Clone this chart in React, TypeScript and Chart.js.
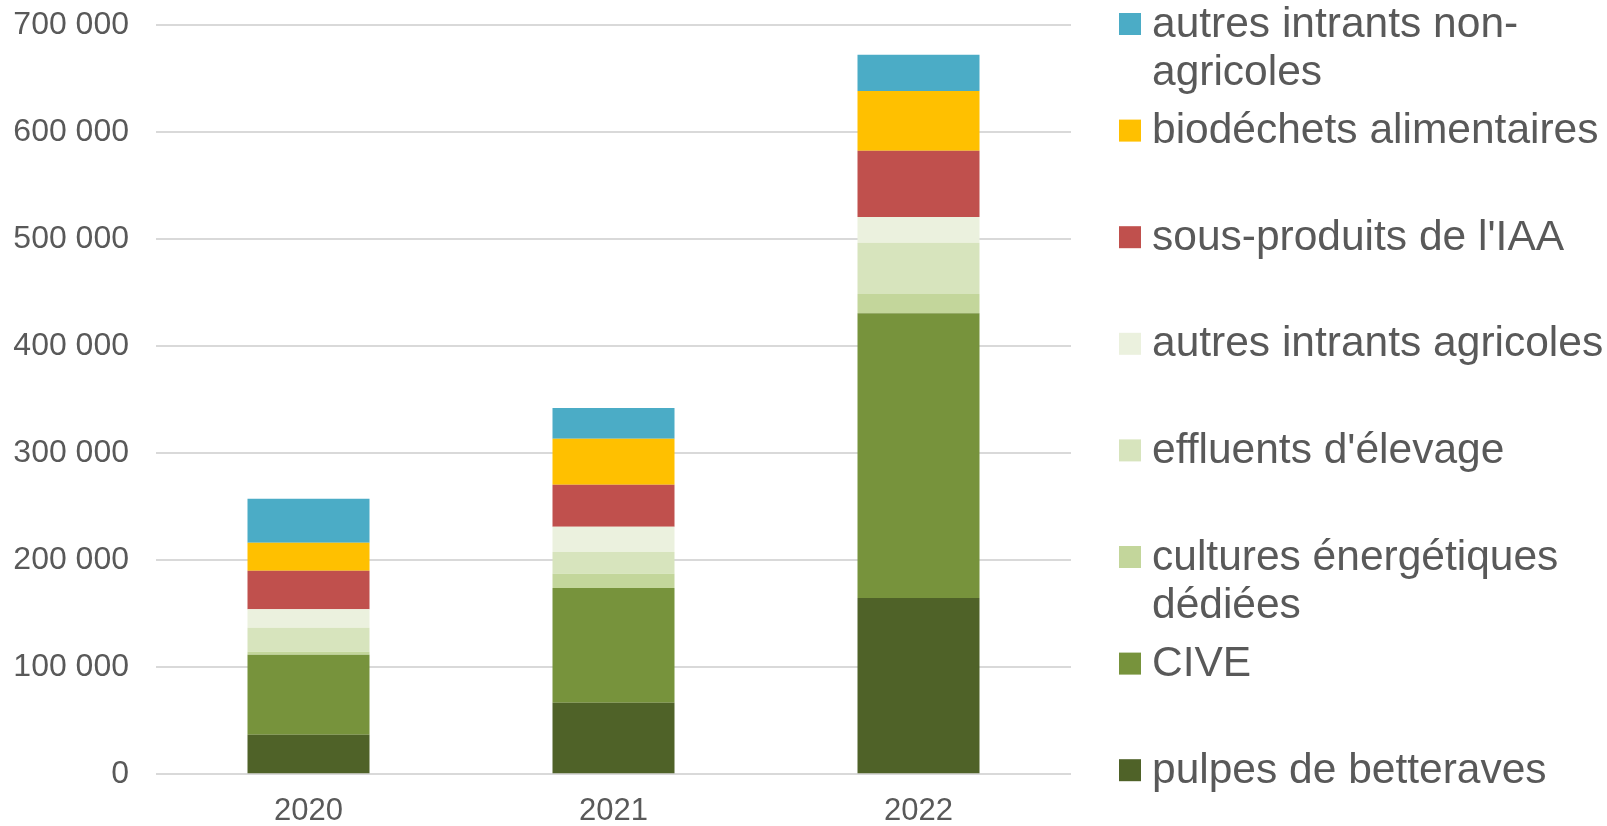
import React, { useEffect, useRef } from "react";
import { Chart, registerables } from "chart.js";

Chart.register(...registerables);

const years = ["2020", "2021", "2022"];

const pulpes = [37000, 66900, 164700];
const cive = [74700, 107100, 266000];
const cultures = [2800, 13400, 18000];
const effluents = [22500, 20300, 47900];
const autresAgricoles = [17100, 23600, 24000];
const sousProduitsIAA = [36100, 39300, 62000];
const biodechets = [26200, 42900, 55800];
const autresNonAgricoles = [41100, 28700, 33900];

const seriesNames = [
  "pulpes de betteraves",
  "CIVE",
  "cultures énergétiques dédiées",
  "effluents d'élevage",
  "autres intrants agricoles",
  "sous-produits de l'IAA",
  "biodéchets alimentaires",
  "autres intrants non-agricoles",
];
const legendLines: string[][] = [
  ["pulpes de betteraves"],
  ["CIVE"],
  ["cultures énergétiques", "dédiées"],
  ["effluents d'élevage"],
  ["autres intrants agricoles"],
  ["sous-produits de l'IAA"],
  ["biodéchets alimentaires"],
  ["autres intrants non-", "agricoles"],
];
const colors = [
  "#4F6228",
  "#77933C",
  "#C3D69B",
  "#D7E4BD",
  "#EBF1DE",
  "#C0504D",
  "#FFC000",
  "#4BACC6",
];
const seriesValues = [
  pulpes,
  cive,
  cultures,
  effluents,
  autresAgricoles,
  sousProduitsIAA,
  biodechets,
  autresNonAgricoles,
];

const yTicks = [0, 100000, 200000, 300000, 400000, 500000, 600000, 700000];

const FONT = "'Liberation Sans', Arial, sans-serif";
const TEXT = "#595959";

const sideLegend = {
  id: "sideLegend",
  afterDraw(chart: any) {
    const ctx = chart.ctx;
    ctx.save();
    ctx.font = `42.5px ${FONT}`;
    ctx.fillStyle = TEXT;
    ctx.textBaseline = "alphabetic";
    ctx.textAlign = "left";
    const n = legendLines.length;
    for (let k = 0; k < n; k++) {
      const i = n - 1 - k; // top item is last dataset
      const cy = 24 + k * 106.6;
      ctx.fillStyle = colors[i];
      ctx.fillRect(1119, cy - 11, 22, 22);
      ctx.fillStyle = TEXT;
      legendLines[i].forEach((line, j) => {
        ctx.fillText(line, 1152, cy + 12.5 + j * 48);
      });
    }
    ctx.restore();
  },
};

export default function App() {
  const ref = useRef<HTMLCanvasElement | null>(null);
  useEffect(() => {
    if (!ref.current) return;
    const chart = new Chart(ref.current, {
      type: "bar",
      data: {
        labels: years,
        datasets: seriesValues.map((vals, i) => ({
          label: seriesNames[i],
          data: vals,
          backgroundColor: colors[i],
          borderWidth: 0,
          barPercentage: 0.4,
          categoryPercentage: 1,
        })),
      },
      options: {
        animation: false,
        responsive: false,
        devicePixelRatio: 1,
        layout: { autoPadding: false, padding: { top: 25, right: 536, bottom: 0, left: 0 } },
        plugins: {
          legend: { display: false },
          tooltip: { enabled: false },
        },
        scales: {
          x: {
            stacked: true,
            grid: { display: false, drawTicks: false },
            border: { display: false },
            ticks: {
              color: TEXT,
              font: { family: FONT, size: 31 },
              padding: 19,
            },
            afterFit: (s: any) => {
              s.height = 51.7;
              s.paddingLeft = 0;
              s.paddingRight = 0;
            },
          },
          y: {
            stacked: true,
            min: 0,
            max: 700000,
            afterBuildTicks: (s: any) => {
              s.ticks = yTicks.map((v) => ({ value: v }));
            },
            grid: { color: "#D9D9D9", lineWidth: 2, drawTicks: false },
            border: { display: false },
            ticks: {
              color: TEXT,
              font: { family: FONT, size: 32 },
              padding: 27,
              callback: (v: any) =>
                Number(v)
                  .toString()
                  .replace(/\B(?=(\d{3})+(?!\d))/g, " "),
            },
            afterFit: (s: any) => {
              s.width = 156;
              s.paddingTop = 0;
              s.paddingBottom = 0;
            },
          },
        },
      },
      plugins: [sideLegend],
    });
    return () => chart.destroy();
  }, []);
  return (
    <div style={{ position: "fixed", left: 0, top: 0, width: 1607, height: 826, background: "#fff" }}>
      <canvas ref={ref} width={1607} height={826} style={{ width: 1607, height: 826, display: "block" }} />
    </div>
  );
}
